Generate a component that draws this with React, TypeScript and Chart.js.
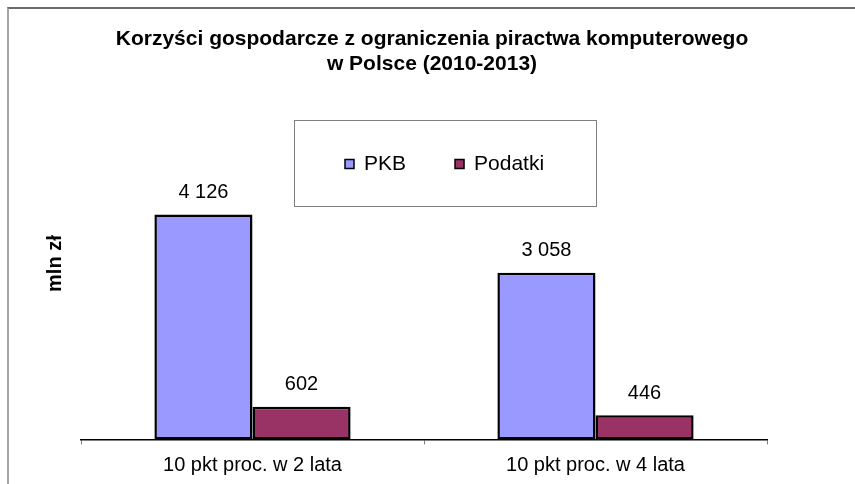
import { useEffect, useRef } from 'react';
import { Chart, registerables } from 'chart.js';

Chart.register(...registerables);

const categories = ['10 pkt proc. w 2 lata', '10 pkt proc. w 4 lata'];
const seriesNames = ['PKB', 'Podatki'];
const pkbValues = [4126, 3058];
const podatkiValues = [602, 446];
const seriesColors = ['#9999FF', '#993366'];
const chartTitle = ['Korzyści gospodarcze z ograniczenia piractwa komputerowego', 'w Polsce (2010-2013)'];
const yAxisTitle = 'mln zł';
const yMax = 6450;

const FONT = "'Liberation Sans', Arial, sans-serif";

function fmt(v: number): string {
  return String(v).replace(/\B(?=(\d{3})+(?!\d))/g, ' ');
}

const dataLabels = {
  id: 'dataLabels',
  afterDatasetsDraw(chart: any) {
    const ctx = chart.ctx;
    ctx.save();
    ctx.font = `20px ${FONT}`;
    ctx.fillStyle = '#000';
    ctx.textAlign = 'center';
    ctx.textBaseline = 'middle';
    chart.data.datasets.forEach((ds: any, i: number) => {
      const meta = chart.getDatasetMeta(i);
      meta.data.forEach((el: any, j: number) => {
        ctx.fillText(fmt(ds.data[j]), el.x, el.y - 22);
      });
    });
    ctx.restore();
  },
};

const boxedLegend = {
  id: 'boxedLegend',
  afterDraw(chart: any) {
    const ctx = chart.ctx;
    const a = chart.chartArea;
    const bx = a.left + 213;
    const by = 111;
    const bw = 302;
    const bh = 86;
    ctx.save();
    ctx.fillStyle = '#fff';
    ctx.fillRect(bx, by, bw, bh);
    ctx.strokeStyle = '#808080';
    ctx.lineWidth = 1;
    ctx.strokeRect(bx + 0.5, by + 0.5, bw, bh);
    ctx.font = `21px ${FONT}`;
    ctx.textBaseline = 'middle';
    ctx.textAlign = 'left';
    const sq = 9;
    const gapT = 10;
    const gapI = 49;
    const items = chart.data.datasets.map((ds: any) => ({
      label: ds.label,
      color: ds.backgroundColor,
      w: ctx.measureText(ds.label).width,
    }));
    const total =
      items.reduce((s: number, it: any) => s + sq + gapT + it.w, 0) + gapI * (items.length - 1);
    let x = Math.round(bx + (bw - total) / 2);
    const cy = by + bh / 2 + 1;
    items.forEach((it: any) => {
      ctx.fillStyle = it.color;
      ctx.fillRect(x, cy - sq / 2, sq, sq);
      ctx.strokeStyle = '#000';
      ctx.lineWidth = 1.5;
      ctx.strokeRect(x, cy - sq / 2, sq, sq);
      ctx.fillStyle = '#000';
      ctx.fillText(it.label, x + sq + gapT, cy);
      x += sq + gapT + it.w + gapI;
    });
    ctx.restore();
  },
};

export default function App() {
  const canvasRef = useRef<HTMLCanvasElement | null>(null);

  useEffect(() => {
    if (!canvasRef.current) return;
    const chart = new Chart(canvasRef.current, {
      type: 'bar',
      data: {
        labels: categories,
        datasets: [
          {
            label: seriesNames[0],
            data: pkbValues,
            backgroundColor: seriesColors[0],
            borderColor: '#000',
            borderWidth: 2.5,
            borderSkipped: false,
            barPercentage: 1,
            categoryPercentage: 0.572,
          },
          {
            label: seriesNames[1],
            data: podatkiValues,
            backgroundColor: seriesColors[1],
            borderColor: '#000',
            borderWidth: 2.5,
            borderSkipped: false,
            barPercentage: 1,
            categoryPercentage: 0.572,
          },
        ],
      },
      options: {
        animation: false,
        responsive: false,
        maintainAspectRatio: false,
        layout: { padding: { left: 0, right: 0, top: 0, bottom: -1.5 } },
        plugins: {
          legend: { display: false },
          tooltip: { enabled: false },
          title: {
            display: true,
            text: chartTitle,
            color: '#000',
            font: { size: 21, weight: 'bold', family: FONT, lineHeight: 25 / 21 },
            padding: { top: 17.5, bottom: 11.2 },
          },
        },
        scales: {
          x: {
            grid: {
              display: true,
              drawOnChartArea: false,
              drawTicks: true,
              tickLength: 5,
              color: '#808080',
              offset: true,
            },
            border: { display: true, color: '#000', width: 1.5 },
            ticks: { font: { size: 20, family: FONT }, color: '#000', padding: 8.5, maxRotation: 0 },
          },
          y: {
            min: 0,
            max: yMax,
            ticks: { display: false },
            grid: { display: false, drawTicks: false },
            border: { display: false },
            title: {
              display: true,
              text: yAxisTitle,
              color: '#000',
              font: { size: 20, weight: 'bold', family: FONT, lineHeight: 1.2 },
              padding: { top: 34, bottom: 14 },
            },
          },
          y2: {
            position: 'right',
            display: true,
            ticks: { display: false },
            grid: { display: false, drawTicks: false },
            border: { display: false },
            title: {
              display: true,
              text: ' ',
              color: 'rgba(0,0,0,0)',
              font: { size: 10, lineHeight: 1 },
              padding: { top: 0, bottom: 78 },
            },
          },
        },
      },
      plugins: [dataLabels, boxedLegend],
    } as any);
    return () => chart.destroy();
  }, []);

  return (
    <div
      style={{
        position: 'fixed',
        left: 7,
        top: 7,
        width: 848,
        height: 477,
        borderLeft: '2px solid #a6a6a6',
        borderTop: '2px solid #6b6b6b',
        boxSizing: 'border-box',
        background: '#fff',
        overflow: 'hidden',
      }}
    >
      <canvas ref={canvasRef} width={846} height={475} style={{ display: 'block' }} />
    </div>
  );
}
